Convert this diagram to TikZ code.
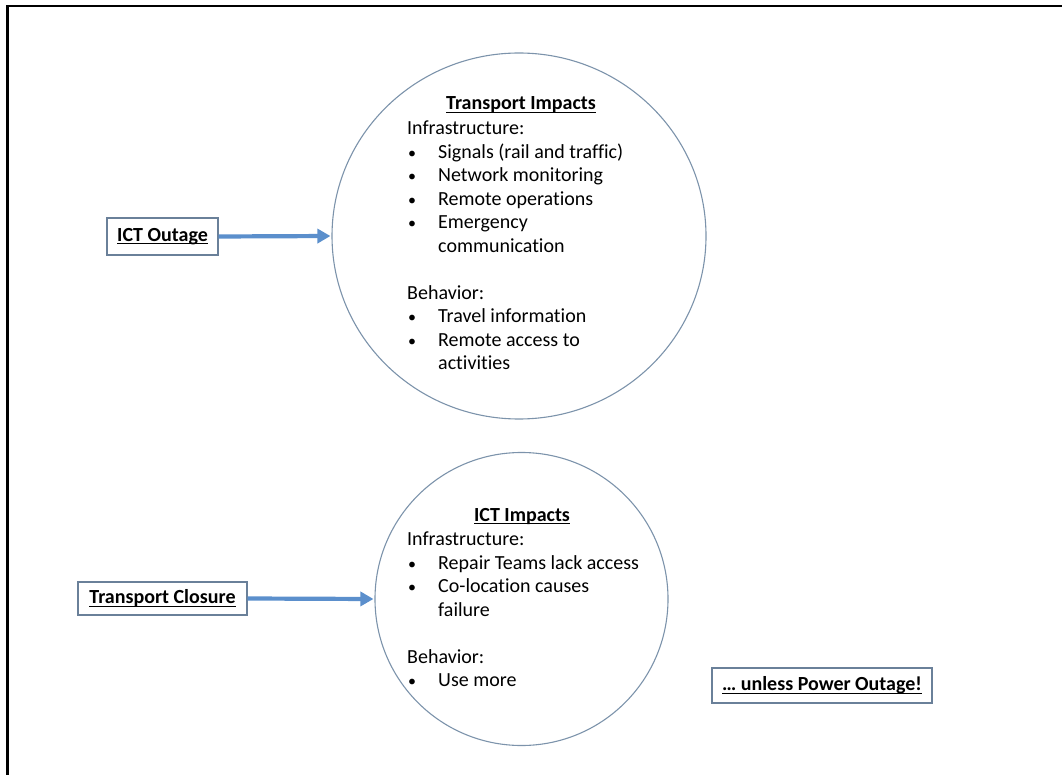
\documentclass[tikz,border=0pt]{standalone}
\usepackage{fontspec}
\setmainfont[Ligatures=NoCommon]{Carlito}
\usetikzlibrary{arrows.meta,shapes.geometric}
\definecolor{arrowblue}{HTML}{5B8FCC}
\definecolor{ringcol}{HTML}{7C93AB}
\definecolor{boxcol}{HTML}{6A8099}
\tikzset{
  labelbox/.style={draw=boxcol, line width=1.2pt, inner sep=0pt, font=\fontsize{20}{24}\selectfont\bfseries},
  ring/.style={draw=ringcol, line width=1.1pt, inner sep=0pt},
  flow/.style={draw=arrowblue, line width=4.2pt, -{Triangle[length=13pt,width=14pt]}, shorten >=1pt},
  body/.style={inner sep=0pt, anchor=base west},
  heading/.style={inner sep=0pt, anchor=base, font=\fontsize{20}{24}\selectfont\bfseries}
}
\newcommand{\uln}[1]{\setbox0\hbox{#1}\rlap{\rule[-3pt]{\wd0}{1.3pt}}\box0}
\newcommand{\bul}[1]{\makebox[31pt][l]{\hspace*{1pt}\scalebox{0.8}{\textbullet}}#1}
\newcommand{\cont}[1]{\hspace*{31pt}#1}
\begin{document}
\begin{tikzpicture}[x=1pt,y=-1pt]
\useasboundingbox (0,0) rectangle (1062,775);
\draw[black, line width=2.2pt] (7.5,6) rectangle (1075,790);

\node[ring, ellipse, minimum width=374pt, minimum height=366pt] (topc) at (519,236) {};
\node[ring, circle, minimum size=293pt] (botc) at (521.5,599) {};

\node[labelbox, minimum width=111pt, minimum height=37pt] (ictout) at (162.5,236.5) {\uln{ICT Outage}};
\node[labelbox, minimum width=169pt, minimum height=33pt] (trclose) at (162.5,598.5) {\uln{Transport Closure}};
\node[labelbox, minimum width=220pt, minimum height=35pt] (power) at (822,685.5) {\uln{\dots{} unless Power Outage!}};

\draw[flow] (ictout.east) -- (topc.west);
\draw[flow] (trclose.east) -- (botc.west);

\node[heading] (toptitle) at (521,110) {\uln{Transport Impacts}};
\node[body] (topbody) at (407,135) {\parbox[t]{290pt}{\fontsize{20}{23.5}\selectfont\raggedright
Infrastructure:\\
\bul{Signals (rail and traffic)}\\
\bul{Network monitoring}\\
\bul{Remote operations}\\
\bul{Emergency}\\
\cont{communication}\\
\mbox{}\\
Behavior:\\
\bul{Travel information}\\
\bul{Remote access to}\\
\cont{activities}}};

\node[heading] (bottitle) at (522,521) {\uln{ICT Impacts}};
\node[body] (botbody) at (407,545.5) {\parbox[t]{260pt}{\fontsize{20}{23.5}\selectfont\raggedright
Infrastructure:\\
\bul{Repair Teams lack access}\\
\bul{Co-location causes}\\
\cont{failure}\\
\mbox{}\\
Behavior:\\
\bul{Use more}}};
\end{tikzpicture}
\end{document}
